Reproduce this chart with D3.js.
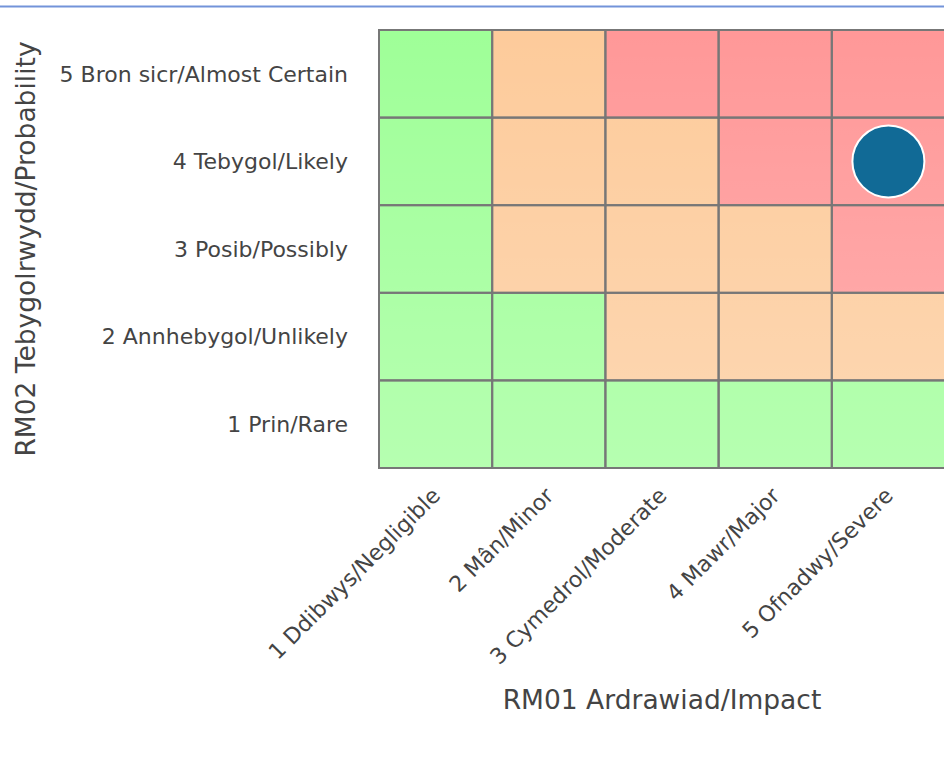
<!DOCTYPE html>
<html lang="en">
<head>
<meta charset="UTF-8">
<title>Risk matrix</title>
<style>
  body { margin: 0; background: #fff; }
  svg text { font-family: "DejaVu Sans", Verdana, sans-serif; fill: #444; }
</style>
</head>
<body>
<div id="chart"></div>
<script src="https://d3js.org/d3.v7.min.js"></script>
<script>
// impact categories (x) and probability categories (y)
var impactLabels = ["1 Ddibwys/Negligible", "2 Mân/Minor", "3 Cymedrol/Moderate", "4 Mawr/Major", "5 Ofnadwy/Severe"];
var probLabels = ["1 Prin/Rare", "2 Annhebygol/Unlikely", "3 Posib/Possibly", "4 Tebygol/Likely", "5 Bron sicr/Almost Certain"];
// risk level per row (probability 1..5), per impact 1..5 : 0 low, 1 medium, 2 high
var levelsByProb = [
  [0, 0, 0, 0, 0],
  [0, 0, 1, 1, 1],
  [0, 1, 1, 1, 2],
  [0, 1, 1, 2, 2],
  [0, 1, 2, 2, 2]
];
var levelColors = ["#9fff98", "#fdcb9b", "#ff9898"];
// the plotted risk(s): impact, probability
var riskImpact = [5];
var riskProb = [4];

var W = 944, H = 766;
var margin = {top: 30, right: -1, bottom: 298, left: 379};
var width = W - margin.left - margin.right;
var height = H - margin.top - margin.bottom;

var svg = d3.select("#chart").append("svg").attr("width", W).attr("height", H);

svg.append("line")
  .attr("x1", 0).attr("x2", W).attr("y1", 6.5).attr("y2", 6.5)
  .attr("stroke", "#7393d9").attr("stroke-width", 2);

var defs = svg.append("defs");
var grad = defs.append("linearGradient").attr("id", "fade")
  .attr("x1", 0).attr("x2", 0).attr("y1", 0).attr("y2", 1);
grad.append("stop").attr("offset", "0%").attr("stop-color", "#fff").attr("stop-opacity", 0);
grad.append("stop").attr("offset", "100%").attr("stop-color", "#fff").attr("stop-opacity", 0.24);

var g = svg.append("g").attr("transform", "translate(" + margin.left + "," + margin.top + ")");

var x = d3.scaleBand().domain([1, 2, 3, 4, 5]).range([0, width]);
var y = d3.scaleBand().domain([5, 4, 3, 2, 1]).range([0, height]);

var cells = [];
levelsByProb.forEach(function(row, pi) {
  row.forEach(function(lv, ii) {
    cells.push({impact: ii + 1, prob: pi + 1, level: lv});
  });
});

g.selectAll(".cell").data(cells).enter().append("rect")
  .attr("class", "cell")
  .attr("x", function(d) { return x(d.impact); })
  .attr("y", function(d) { return y(d.prob); })
  .attr("width", x.bandwidth())
  .attr("height", y.bandwidth())
  .attr("fill", function(d) { return levelColors[d.level]; });

g.append("rect").attr("width", width).attr("height", height).attr("fill", "url(#fade)");

g.selectAll(".cellborder").data(cells).enter().append("rect")
  .attr("class", "cellborder")
  .attr("x", function(d) { return x(d.impact); })
  .attr("y", function(d) { return y(d.prob); })
  .attr("width", x.bandwidth())
  .attr("height", y.bandwidth())
  .attr("fill", "none")
  .attr("stroke", "#777")
  .attr("stroke-width", 2);

// y tick labels
g.selectAll(".ylab").data(probLabels).enter().append("text")
  .attr("class", "ylab")
  .attr("x", -31)
  .attr("y", function(d, i) { return y(i + 1) + y.bandwidth() / 2; })
  .attr("dy", "0.35em")
  .attr("text-anchor", "end")
  .style("font-size", "22px")
  .text(function(d) { return d; });

// x tick labels
g.selectAll(".xlab").data(impactLabels).enter().append("text")
  .attr("class", "xlab")
  .attr("text-anchor", "end")
  .attr("transform", function(d, i) {
    return "translate(" + (x(i + 1) + x.bandwidth() / 2 + 6) + "," + (height + 29) + ") rotate(-45)";
  })
  .style("font-size", "22px")
  .text(function(d) { return d; });

// axis titles
g.append("text")
  .attr("x", width / 2).attr("y", height + 241)
  .attr("text-anchor", "middle")
  .style("font-size", "26.5px")
  .text("RM01 Ardrawiad/Impact");

svg.append("text")
  .attr("transform", "translate(35," + (margin.top + height / 2) + ") rotate(-90)")
  .attr("text-anchor", "middle")
  .style("font-size", "26.5px")
  .text("RM02 Tebygolrwydd/Probability");

// plotted risk
g.selectAll(".risk").data(riskImpact).enter().append("circle")
  .attr("class", "risk")
  .attr("cx", function(d) { return x(d) + x.bandwidth() / 2; })
  .attr("cy", function(d, i) { return y(riskProb[i]) + y.bandwidth() / 2; })
  .attr("r", 36)
  .attr("fill", "#116a96")
  .attr("stroke", "#fff")
  .attr("stroke-width", 2);
</script>
</body>
</html>
